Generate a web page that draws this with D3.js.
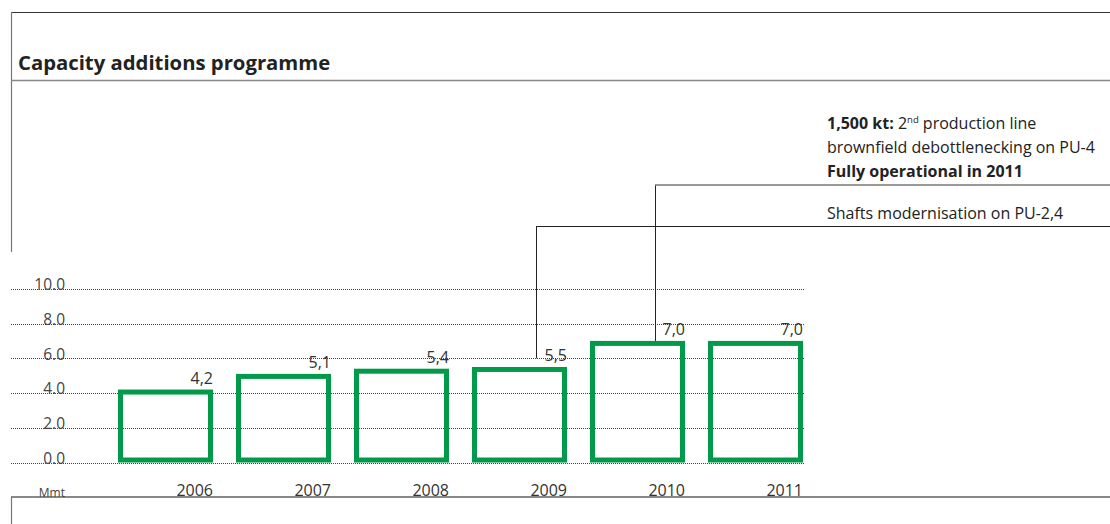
<!DOCTYPE html>
<html>
<head>
<meta charset="utf-8">
<script src="https://cdn.jsdelivr.net/npm/d3@7"></script>
<style>
  html, body { margin: 0; padding: 0; background: #fff; }
  svg { display: block; font-family: "Open Sans", "Noto Sans", sans-serif; }
</style>
</head>
<body>
<svg id="chart" width="1110" height="524"></svg>
<script>
const categories = ["2006", "2007", "2008", "2009", "2010", "2011"];
const values = [4.2, 5.1, 5.4, 5.5, 7.0, 7.0];
const valueLabels = ["4,2", "5,1", "5,4", "5,5", "7,0", "7,0"];
const yTicks = [0, 2, 4, 6, 8, 10];
const title = "Capacity additions programme";
const unitLabel = "Mmt";

const svg = d3.select("#chart");
const green = "#009a4a";
const sw = 5;

// frame lines
svg.append("line").attr("x1", 11).attr("x2", 1110).attr("y1", 12.5).attr("y2", 12.5).attr("stroke", "#333").attr("stroke-width", 1);
svg.append("line").attr("x1", 11.5).attr("x2", 11.5).attr("y1", 12).attr("y2", 252).attr("stroke", "#777").attr("stroke-width", 1.2);
svg.append("text").attr("x", 18).attr("y", 70).attr("font-size", 20.3).attr("font-weight", "bold").attr("fill", "#222").text(title);
svg.append("line").attr("x1", 11).attr("x2", 1110).attr("y1", 80.5).attr("y2", 80.5).attr("stroke", "#888").attr("stroke-width", 1.5);
svg.append("line").attr("x1", 11).attr("x2", 1110).attr("y1", 497).attr("y2", 497).attr("stroke", "#888").attr("stroke-width", 2);
svg.append("line").attr("x1", 11.5).attr("x2", 11.5).attr("y1", 497).attr("y2", 524).attr("stroke", "#777").attr("stroke-width", 1.2);

const y = d3.scaleLinear().domain([0, 10]).range([462.5, 288.8]);
const x = d3.scaleBand().domain(categories).range([118, 803]).paddingInner(0.195).paddingOuter(0);

// gridlines
const grid = svg.append("g");
grid.selectAll("line").data(yTicks).join("line")
  .attr("x1", 11).attr("x2", 805)
  .attr("y1", d => Math.round(y(d)) + 0.5).attr("y2", d => Math.round(y(d)) + 0.5)
  .attr("stroke", "#444").attr("stroke-width", 1).attr("stroke-dasharray", "1,1");

// y tick labels
const yAxis = d3.axisLeft(y).tickValues(yTicks).tickFormat(d3.format(".1f")).tickSize(0).tickPadding(0);
const ya = svg.append("g").attr("transform", "translate(65,0)").call(yAxis);
ya.select(".domain").remove();
ya.selectAll("text").attr("dy", "0.05em").attr("font-size", 15.5).attr("fill", "#444")
  .attr("font-family", "\"Open Sans\", sans-serif");

// bars
svg.append("g").selectAll("rect").data(values).join("rect")
  .attr("x", (d, i) => x(categories[i]) + sw / 2)
  .attr("y", d => y(d) + sw / 2)
  .attr("width", x.bandwidth() - sw)
  .attr("height", d => y(0) - y(d) - sw)
  .attr("fill", "none").attr("stroke", green).attr("stroke-width", sw);

// value labels
svg.append("g").selectAll("text").data(values).join("text")
  .attr("x", (d, i) => x(categories[i]) + x.bandwidth())
  .attr("y", d => y(d) - 6)
  .attr("text-anchor", "end").attr("font-size", 16).attr("fill", "#333")
  .text((d, i) => valueLabels[i]);

// x axis labels
const xAxis = d3.axisBottom(x).tickSize(0).tickPadding(0);
const xa = svg.append("g").attr("transform", "translate(0,497)").call(xAxis);
xa.select(".domain").remove();
xa.selectAll(".tick text")
  .attr("x", x.bandwidth() / 2).attr("y", 0).attr("dy", "-0.05em")
  .attr("text-anchor", "end").attr("font-size", 16).attr("fill", "#333")
  .attr("font-family", "\"Open Sans\", sans-serif");

svg.append("text").attr("x", 65).attr("y", 496.5).attr("text-anchor", "end")
  .attr("font-size", 12).attr("fill", "#444").text(unitLabel);

// annotations
const ann = svg.append("g");
const x2009 = 536, x2010 = 655;
ann.append("line").attr("x1", x2009 + 0.5).attr("x2", x2009 + 0.5).attr("y1", 226).attr("y2", y(6)).attr("stroke", "#222").attr("stroke-width", 1);
ann.append("line").attr("x1", x2009).attr("x2", 1110).attr("y1", 226.5).attr("y2", 226.5).attr("stroke", "#222").attr("stroke-width", 1);
ann.append("line").attr("x1", x2010 + 0.5).attr("x2", x2010 + 0.5).attr("y1", 185).attr("y2", y(7)).attr("stroke", "#222").attr("stroke-width", 1);
ann.append("line").attr("x1", x2010).attr("x2", 1110).attr("y1", 185).attr("y2", 185).attr("stroke", "#777").attr("stroke-width", 1.5);

const t1 = ann.append("text").attr("x", 827).attr("y", 129).attr("font-size", 16).attr("fill", "#222");
t1.append("tspan").attr("font-weight", "bold").text("1,500 kt:");
t1.append("tspan").text(" 2");
t1.append("tspan").attr("font-size", 9.5).attr("dy", -6).text("nd");
t1.append("tspan").attr("dy", 6).text(" production line");
ann.append("text").attr("x", 827).attr("y", 153).attr("font-size", 16).attr("fill", "#222").text("brownfield debottlenecking on PU-4");
ann.append("text").attr("x", 827).attr("y", 177).attr("font-size", 16).attr("font-weight", "bold").attr("fill", "#222").text("Fully operational in 2011");
ann.append("text").attr("x", 827).attr("y", 219).attr("font-size", 16).attr("fill", "#222").text("Shafts modernisation on PU-2,4");
</script>
</body>
</html>
